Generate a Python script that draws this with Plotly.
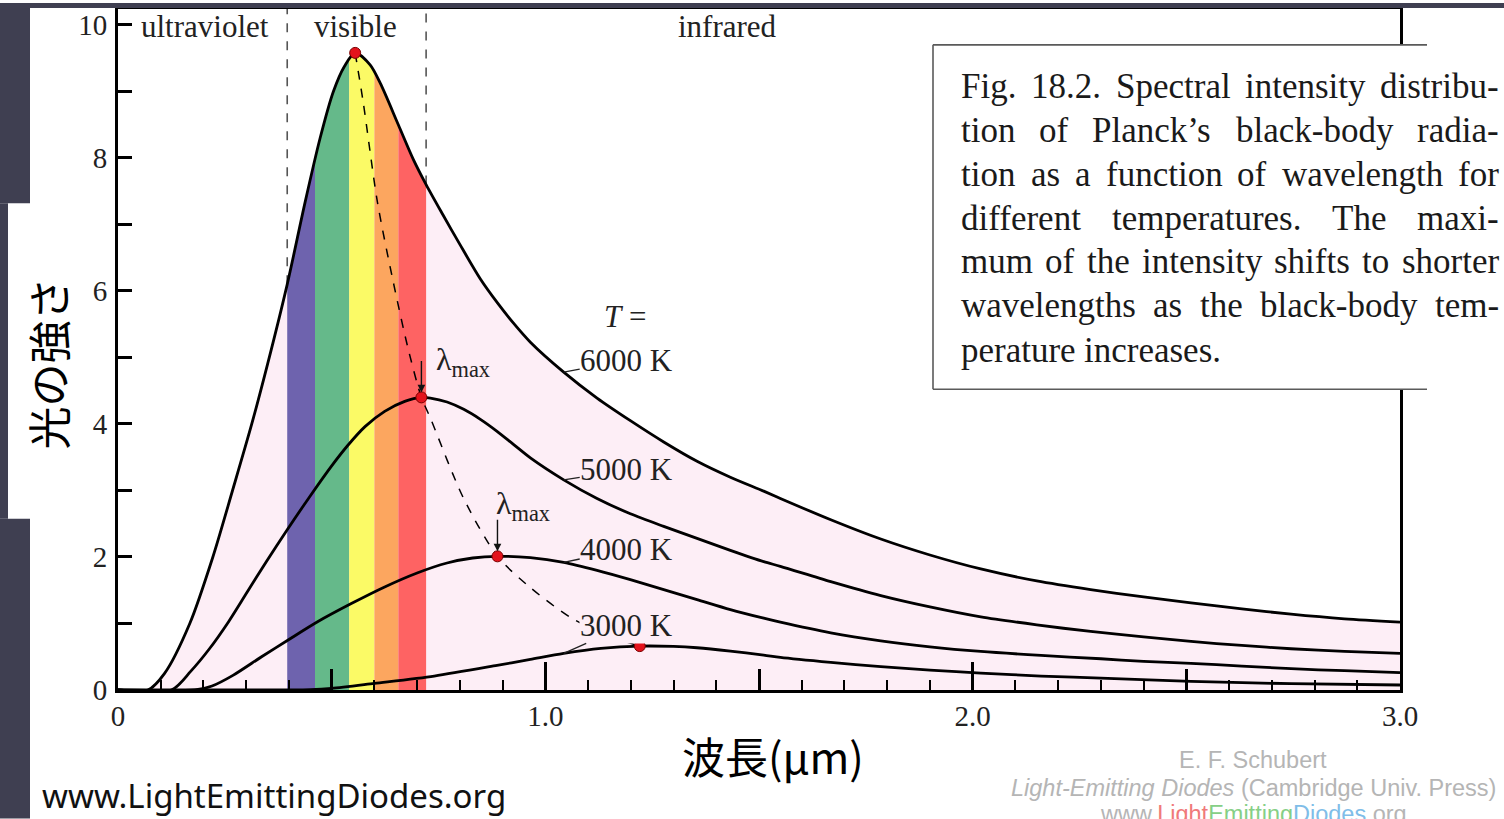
import plotly.graph_objects as go

# ---------------- data ----------------
WL_6000 = [0.0, 0.070, 0.109, 0.168, 0.222, 0.268, 0.313, 0.350, 0.396, 0.438, 0.473, 0.504, 0.530,
           0.555, 0.590, 0.614, 0.656, 0.691, 0.721, 0.760, 0.800, 0.848, 0.888, 0.925, 0.965,
           1.043, 1.121, 1.199, 1.277, 1.355, 1.433, 1.511, 1.550, 1.668, 1.785, 1.900, 2.019,
           2.150, 2.276, 2.400, 2.511, 2.630, 2.745, 2.870, 3.0]
I_6000 = [0, 0, 0.25, 1.0, 2.0, 3.0, 4.0, 4.90, 6.10, 7.34, 8.30, 9.0, 9.38,
          9.58, 9.40, 9.12, 8.50, 7.98, 7.60, 7.15, 6.70, 6.18, 5.82, 5.52, 5.23,
          4.78, 4.39, 4.05, 3.73, 3.44, 3.20, 2.99, 2.88, 2.56, 2.27, 2.03, 1.82,
          1.64, 1.51, 1.40, 1.31, 1.22, 1.14, 1.07, 1.02]

WL_5000 = [0.0, 0.125, 0.170, 0.214, 0.258, 0.302, 0.347, 0.396, 0.449, 0.500, 0.538, 0.578, 0.624,
           0.671, 0.710, 0.731, 0.770, 0.809, 0.848, 0.887, 0.926, 0.965, 1.043, 1.121, 1.199,
           1.277, 1.355, 1.433, 1.511, 1.550, 1.668, 1.785, 1.900, 2.019, 2.150, 2.276, 2.400,
           2.511, 2.630, 2.745, 2.870, 3.0]
I_5000 = [0, 0, 0.28, 0.62, 1.02, 1.47, 1.93, 2.41, 2.91, 3.37, 3.68, 3.96, 4.19,
          4.34, 4.40, 4.39, 4.33, 4.22, 4.07, 3.89, 3.69, 3.49, 3.16, 2.88, 2.65,
          2.46, 2.28, 2.10, 1.93, 1.86, 1.63, 1.42, 1.25, 1.10, 0.98, 0.88, 0.80,
          0.73, 0.67, 0.62, 0.58, 0.55]

WL_4000 = [0.0, 0.180, 0.220, 0.269, 0.336, 0.400, 0.468, 0.546, 0.624, 0.700, 0.770, 0.830, 0.888,
           0.965, 1.043, 1.121, 1.199, 1.277, 1.355, 1.433, 1.511, 1.550, 1.668, 1.785, 1.900,
           2.019, 2.160, 2.300, 2.400, 2.511, 2.630, 2.745, 2.870, 3.0]
I_4000 = [0, 0, 0.06, 0.22, 0.50, 0.76, 1.03, 1.30, 1.55, 1.76, 1.91, 1.985, 2.01,
          1.99, 1.92, 1.80, 1.66, 1.51, 1.36, 1.21, 1.08, 1.02, 0.86, 0.74, 0.65,
          0.58, 0.52, 0.47, 0.43, 0.40, 0.36, 0.32, 0.29, 0.26]

WL_3000 = [0.0, 0.400, 0.450, 0.500, 0.600, 0.740, 0.887, 0.965, 1.043, 1.130, 1.221, 1.300, 1.355,
           1.433, 1.511, 1.550, 1.668, 1.785, 1.900, 2.019, 2.160, 2.300, 2.511, 2.745, 3.0]
I_3000 = [0, 0, 0.005, 0.025, 0.10, 0.21, 0.37, 0.46, 0.55, 0.625, 0.66, 0.655, 0.635,
          0.585, 0.525, 0.49, 0.415, 0.35, 0.30, 0.255, 0.21, 0.178, 0.13, 0.095, 0.075]

PEAK_WL = [0.555, 0.710, 0.888, 1.221]
PEAK_I = [9.58, 4.40, 2.01, 0.66]

LAMBDA_WL = [0.555, 0.574, 0.607, 0.644, 0.679, 0.710, 0.731, 0.808, 0.888, 0.965, 1.059, 1.145, 1.221]
LAMBDA_I = [9.58, 8.83, 7.34, 6.14, 5.13, 4.40, 4.09, 2.89, 2.01, 1.54, 1.09, 0.82, 0.66]

BAND_EDGES = [0.396, 0.461, 0.541, 0.600, 0.656, 0.721]
BAND_COLORS = ["#6e63ae", "#65b98a", "#fbfa66", "#fca65f", "#fe6363"]

REGION_NAMES = ["ultraviolet", "visible", "infrared"]
REGION_X = [0.204, 0.555, 1.426]

CURVE_LABELS = ["6000 K", "5000 K", "4000 K", "3000 K"]
LABEL_WL = 1.043

X_TICKS = [0, 1, 2, 3]
X_TICKTEXT = ["0", "1.0", "2.0", "3.0"]
X_HALF_TICKS = [0.5, 1.5, 2.5]
Y_TICKS = list(range(0, 11))
Y_TICKTEXT = [str(v) if v % 2 == 0 else "" for v in Y_TICKS]

CAPTION = [
    "Fig. 18.2. Spectral intensity distribu-",
    "tion of Planck\u2019s black-body radia-",
    "tion as a function of wavelength for",
    "different temperatures. The maxi-",
    "mum of the intensity shifts to shorter",
    "wavelengths as the black-body tem-",
    "perature increases.",
]

# ---------------- layout helpers ----------------
W, H = 1504, 819
L, R, T, B = 118, 1400, 6, 690
YTOP = 10.24
SERIF = "Liberation Serif"
CJK = "Noto Sans CJK JP"
DARK = "#3f3f51"
PINK = "#fdeef6"


def px_x(px):
    return (px - L) / (R - L)


def px_y(py):
    return (B - py) / (B - T)


TIMES_W = {' ': 250, 'a': 444, 'b': 500, 'c': 444, 'd': 500, 'e': 444, 'f': 333, 'g': 500, 'h': 500,
           'i': 278, 'j': 278, 'k': 500, 'l': 278, 'm': 778, 'n': 500, 'o': 500, 'p': 500, 'q': 500,
           'r': 333, 's': 389, 't': 278, 'u': 500, 'v': 500, 'w': 722, 'x': 500, 'y': 500, 'z': 444,
           'F': 556, 'P': 556, 'S': 556, 'T': 611, '.': 250, '-': 333, '\u2019': 333, '1': 500,
           '2': 500, '8': 500}


def tw(s, size):
    return sum(TIMES_W.get(c, 500) for c in s) / 1000.0 * size


def paper_text(px, py, text, size, family=SERIF, color="#222", xanchor="center", **kw):
    d = dict(x=px_x(px), y=px_y(py), xref="paper", yref="paper", text=text, showarrow=False,
             xanchor=xanchor, yanchor="middle", font=dict(family=family, size=size, color=color))
    d.update(kw)
    return d


SPL = dict(shape="spline", smoothing=0.8)

fig = go.Figure()

# white mask above the 6000 K curve (plot background is pink)
fig.add_trace(go.Scatter(x=[0, 3.0], y=[YTOP, YTOP], mode="lines", line=dict(width=0, color="white"),
                         hoverinfo="skip", showlegend=False))
fig.add_trace(go.Scatter(x=WL_6000, y=I_6000, mode="lines", fill="tonexty", fillcolor="white",
                         line=dict(width=0, **SPL), hoverinfo="skip", showlegend=False))

# dashed region boundaries
for edge in (BAND_EDGES[0], BAND_EDGES[-1]):
    yv = I_6000[WL_6000.index(edge)]
    fig.add_trace(go.Scatter(x=[edge, edge], y=[yv, YTOP], mode="lines",
                             line=dict(color="#555555", width=1.6, dash="dash"),
                             hoverinfo="skip", showlegend=False))

# lambda max locus
fig.add_trace(go.Scatter(x=LAMBDA_WL, y=LAMBDA_I, mode="lines",
                         line=dict(color="black", width=1.5, dash="dash", **SPL),
                         hoverinfo="skip", showlegend=False))

# curves
for wl, iv in ((WL_6000, I_6000), (WL_5000, I_5000), (WL_4000, I_4000), (WL_3000, I_3000)):
    fig.add_trace(go.Scatter(x=wl, y=iv, mode="lines", line=dict(color="black", width=2.8, **SPL),
                             hoverinfo="skip", showlegend=False))

# peak dots
fig.add_trace(go.Scatter(x=PEAK_WL, y=PEAK_I, mode="markers",
                         marker=dict(size=11, color="#e3121c", line=dict(color="#7a0000", width=1)),
                         hoverinfo="skip", showlegend=False))

# invisible trace for the half-micron tick axis
fig.add_trace(go.Scatter(x=[0, 3.0], y=[0, 0], xaxis="x2", mode="markers", marker=dict(opacity=0),
                         hoverinfo="skip", showlegend=False))

shapes = []
# spectral bands (below traces; masked by white fill above curve)
for i, col in enumerate(BAND_COLORS):
    shapes.append(dict(type="rect", xref="x", yref="y", x0=BAND_EDGES[i], x1=BAND_EDGES[i + 1],
                       y0=0, y1=YTOP, fillcolor=col, line=dict(width=0), layer="below"))

# dark page strips
for (x0, x1, y0, y1) in [(0, 1504, 0, 5), (0, 30, 0, 201), (0, 8, 201, 518), (0, 30, 518, 819)]:
    shapes.append(dict(type="rect", xref="paper", yref="paper", x0=px_x(x0), x1=px_x(x1),
                       y0=px_y(y1), y1=px_y(y0), fillcolor=DARK, line=dict(width=0), layer="above"))

# caption box
bx0, bx1, by0, by1 = 933, 1427, 42, 388
shapes.append(dict(type="rect", xref="paper", yref="paper", x0=px_x(bx0), x1=px_x(bx1),
                   y0=px_y(by1), y1=px_y(by0), fillcolor="white", line=dict(width=0), layer="above"))
for (x0, y0, x1, y1) in [(bx0, by0, bx1, by0), (bx0, by1, bx1, by1), (bx0, by0, bx0, by1)]:
    shapes.append(dict(type="line", xref="paper", yref="paper", x0=px_x(x0), x1=px_x(x1),
                       y0=px_y(y0), y1=px_y(y1), line=dict(color="#5a5a5a", width=1.6), layer="above"))

ann = []
# region labels
for name, xv in zip(REGION_NAMES, REGION_X):
    ann.append(dict(x=xv, y=9.97, xref="x", yref="y", text=name, showarrow=False,
                    xanchor="center", yanchor="middle",
                    font=dict(family=SERIF, size=31, color="#222")))

# curve labels with leaders
label_offsets = [-12, -10, -13, -28]
for (wl, iv), lab, ay in zip(((WL_6000, I_6000), (WL_5000, I_5000), (WL_4000, I_4000), (WL_3000, I_3000)),
                             CURVE_LABELS, label_offsets):
    k = wl.index(LABEL_WL)
    bg = PINK if lab == "3000 K" else "rgba(0,0,0,0)"
    ann.append(dict(x=wl[k], y=iv[k], xref="x", yref="y", text=lab, showarrow=True, arrowhead=0,
                    arrowwidth=1.3, arrowcolor="#222", ax=63, ay=ay, bgcolor=bg, borderpad=0,
                    font=dict(family=SERIF, size=31, color="#222")))
ann.append(paper_text(625, 315, "<i>T</i> =", 31))

# lambda max arrows and labels
for k, (lx, ly) in zip((1, 2), ((463, 360), (523, 505))):
    ann.append(dict(x=PEAK_WL[k], y=PEAK_I[k], xref="x", yref="y", text="", showarrow=True,
                    arrowhead=2, arrowsize=1.1, arrowwidth=1.4, arrowcolor="#111", ax=0, ay=-38,
                    standoff=5))
    ann.append(paper_text(lx, ly, "\u03bb<sub>max</sub>", 32))

# caption text, justified
CAP_SIZE = 35
CAP_LEFT, CAP_RIGHT = 960, 1498
cap_y = [84, 128, 172, 216, 260, 304, 349]
for li, (line, py) in enumerate(zip(CAPTION, cap_y)):
    words = line.split(" ")
    widths = [tw(w, CAP_SIZE) for w in words]
    if li < len(CAPTION) - 1 and len(words) > 1:
        gap = (CAP_RIGHT - CAP_LEFT - sum(widths)) / (len(words) - 1)
    else:
        gap = tw(" ", CAP_SIZE)
    xpos = CAP_LEFT
    for w, wd in zip(words, widths):
        ann.append(paper_text(xpos, py, w, CAP_SIZE, color="#1a1a1a", xanchor="left", borderpad=0))
        xpos += wd + gap

# axis titles and page texts
ann.append(paper_text(47, 362, "光の強さ", 43, family=CJK, color="black", textangle=-90))
ann.append(paper_text(773, 755, "波長(µm)", 43, family=CJK, color="black"))
ann.append(paper_text(41, 796, "www.LightEmittingDiodes.org", 33, family="Noto Sans", color="#111",
                      xanchor="left", borderpad=0))

# credits
GREY = "#b5b5b5"
ann.append(paper_text(1253, 760, "E. F. Schubert", 23.5, family="Liberation Sans", color=GREY))
ann.append(paper_text(1253, 788, "<i>Light-Emitting Diodes</i> (Cambridge Univ. Press)", 23.5,
                      family="Liberation Sans", color=GREY))
ann.append(paper_text(1253, 815,
                      'www.<span style="color:#f07a7a">Light</span><span style="color:#86cf86">Emitting</span>'
                      '<span style="color:#80bde8">Diodes</span>.org', 23.5,
                      family="Liberation Sans", color=GREY))

fig.update_layout(
    width=W, height=H,
    margin=dict(l=L, r=W - R, t=T, b=H - B, pad=0),
    paper_bgcolor="white", plot_bgcolor=PINK,
    showlegend=False,
    xaxis=dict(range=[0, 3.0], showgrid=False, zeroline=False, showline=True, linecolor="black",
               linewidth=3, mirror=True, ticks="inside", tickvals=X_TICKS, ticktext=X_TICKTEXT,
               ticklen=28, tickwidth=2.5, tickcolor="black", ticklabelstandoff=-2,
               tickfont=dict(family=SERIF, size=29, color="#222"),
               minor=dict(dtick=0.1, tick0=0, ticks="inside", ticklen=10, tickwidth=2,
                          tickcolor="black", showgrid=False)),
    xaxis2=dict(range=[0, 3.0], overlaying="x", anchor="y", side="bottom", showgrid=False,
                zeroline=False, showline=False, ticks="inside", tickvals=X_HALF_TICKS, ticklen=21,
                tickwidth=2.5, tickcolor="black", showticklabels=False),
    yaxis=dict(range=[0, YTOP], showgrid=False, zeroline=False, showline=True, linecolor="black",
               linewidth=3, mirror=True, ticks="inside", tickvals=Y_TICKS, ticktext=Y_TICKTEXT,
               ticklen=14, tickwidth=2.5, tickcolor="black", ticklabelstandoff=2,
               tickfont=dict(family=SERIF, size=29, color="#222")),
    shapes=shapes,
    annotations=ann,
)

fig.write_html("out.html", config={"displayModeBar": False},
               post_script="document.body.style.margin='0px';document.body.style.overflow='hidden';")
